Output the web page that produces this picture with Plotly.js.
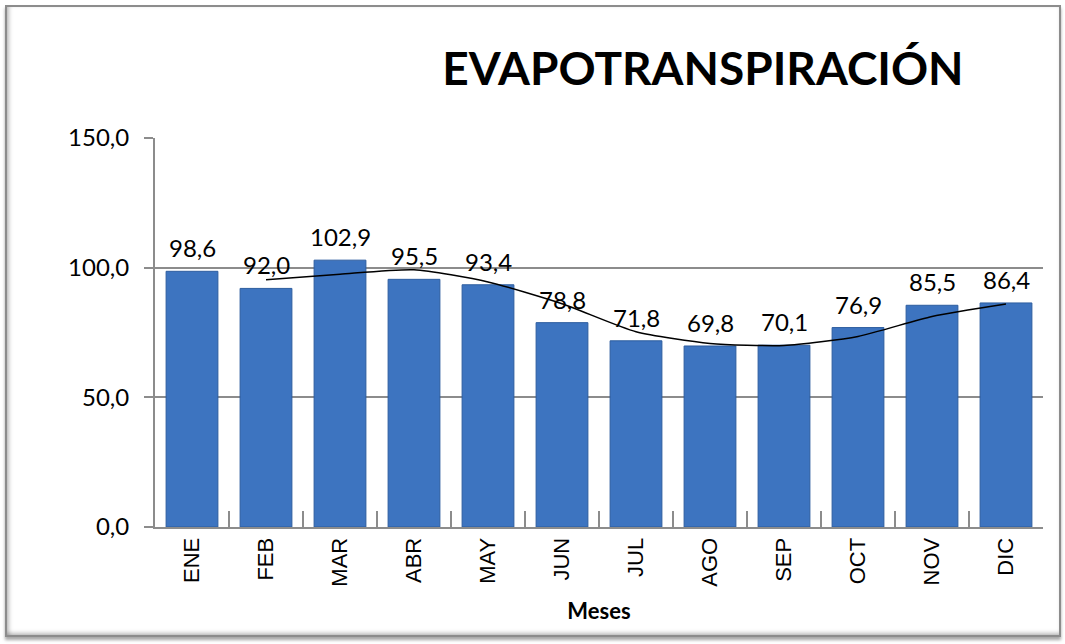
<!DOCTYPE html>
<html>
<head>
<meta charset="utf-8">
<script src="https://cdn.plot.ly/plotly-3.0.1.min.js"></script>
<style>
html,body{margin:0;padding:0;background:#fff;}
#wrap{position:relative;width:1065px;height:644px;}
#chart{width:1065px;height:644px;}
#frame{position:absolute;left:5px;top:5px;width:1052px;height:628px;border:2px solid #8c8c8c;
 box-shadow: inset 4px 0 4px -2px rgba(0,0,0,0.25), inset 0 -4px 4px -2px rgba(0,0,0,0.25), 0 3px 3px rgba(0,0,0,0.35);
 pointer-events:none;}
</style>
</head>
<body>
<div id="wrap">
<div id="chart"></div>
<div id="frame"></div>
</div>
<script>
const months = ["ENE","FEB","MAR","ABR","MAY","JUN","JUL","AGO","SEP","OCT","NOV","DIC"];
const evapo = [98.6, 92.0, 102.9, 95.5, 93.4, 78.8, 71.8, 69.8, 70.1, 76.9, 85.5, 86.4];
// trend line (2-period moving average as drawn in the reference), starts at FEB
const trendMonths = ["FEB","MAR","ABR","MAY","JUN","JUL","AGO","SEP","OCT","NOV","DIC"];
const trendValues = [95.3, 97.5, 99.2, 94.5, 86.1, 75.3, 70.8, 70.0, 73.5, 81.2, 86.0];
const yTicks = [0, 50, 100, 150];
const yTickLabels = ["0,0", "50,0", "100,0", "150,0"];

const fmt = v => v.toFixed(1).replace('.', ',');

const bars = {
  type: 'bar',
  x: months,
  y: evapo,
  marker: {color: '#3d74c0', line: {color: '#2d5d9f', width: 1}},
  hoverinfo: 'x+y',
  showlegend: false
};
const trend = {
  type: 'scatter',
  mode: 'lines',
  x: trendMonths,
  y: trendValues,
  line: {color: '#000000', width: 1.5, shape: 'spline', smoothing: 0.6},
  showlegend: false,
  hoverinfo: 'skip'
};

const annotations = months.map((m, i) => ({
  x: m, y: evapo[i], xref: 'x', yref: 'y',
  text: fmt(evapo[i]), showarrow: false,
  yanchor: 'bottom', yshift: 7,
  font: {family: 'Lato, "Open Sans", sans-serif', size: 24, color: '#000'}
}));

const layout = {
  width: 1065, height: 644,
  margin: {l: 155, r: 22, t: 138, b: 117},
  paper_bgcolor: '#ffffff',
  plot_bgcolor: '#ffffff',
  bargap: 0.3,
  title: {
    text: '<b>EVAPOTRANSPIRACIÓN</b>',
    font: {family: 'Lato, "Open Sans", sans-serif', size: 46, color: '#000'},
    x: 0.66, xanchor: 'center', y: 0.893, yanchor: 'middle'
  },
  xaxis: {
    type: 'category',
    tickangle: -90,
    tickfont: {family: '"Liberation Sans", Arial, sans-serif', size: 22, color: '#000'},
    showline: true, linecolor: '#8c8c8c', linewidth: 2,
    ticks: 'inside', tickson: 'boundaries', ticklen: 16, tickcolor: '#8c8c8c', tickwidth: 2,
    showgrid: false,
    title: {text: '<b>Meses</b>', font: {family: 'Lato, "Open Sans", sans-serif', size: 22, color: '#000'}, standoff: 18},
    fixedrange: true
  },
  yaxis: {
    range: [0, 150],
    tickvals: yTicks,
    ticktext: yTickLabels,
    tickfont: {family: 'Lato, "Open Sans", sans-serif', size: 24, color: '#000'},
    ticklabelstandoff: 10,
    showline: true, linecolor: '#8c8c8c', linewidth: 2,
    ticks: 'outside', ticklen: 9, tickcolor: '#8c8c8c', tickwidth: 2,
    showgrid: true, gridcolor: '#8c8c8c', gridwidth: 2,
    zeroline: false,
    fixedrange: true
  },
  annotations: annotations
};

Plotly.newPlot('chart', [bars, trend], layout, {displayModeBar: false, staticPlot: true});
</script>
</body>
</html>
